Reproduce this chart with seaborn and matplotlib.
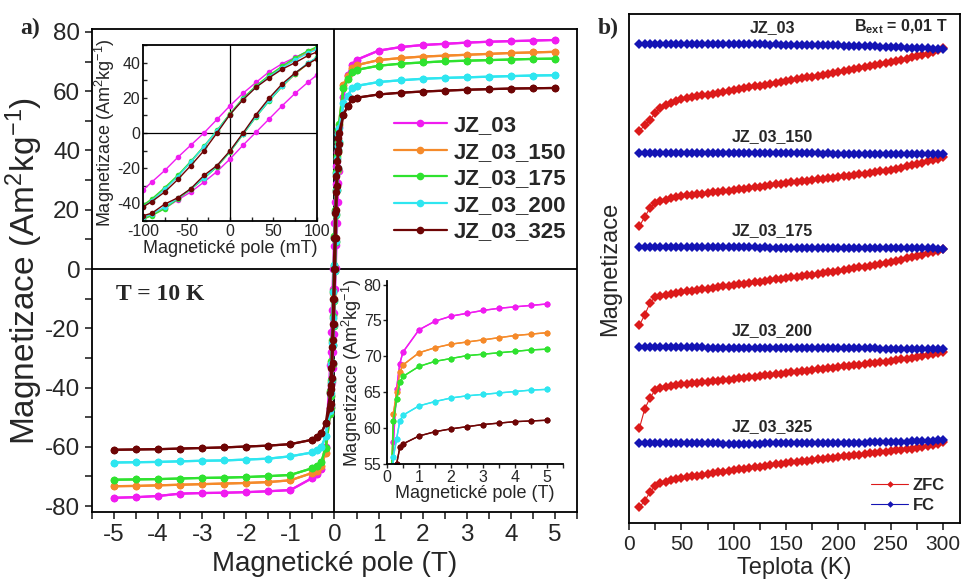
import numpy as np
import pandas as pd
import matplotlib
matplotlib.use("Agg")
import matplotlib.pyplot as plt
from matplotlib.ticker import MultipleLocator
import seaborn as sns

# ---------- panel a: hysteresis at 10 K ----------
SAMPLES = ["JZ_03", "JZ_03_150", "JZ_03_175", "JZ_03_200", "JZ_03_325"]
COLORS = ["#f01cf0", "#f58a2a", "#2fe22f", "#2ee6f0", "#6e0505"]

H_POS = [5, 4.5, 4, 3.5, 3, 2.5, 2, 1.5, 1, 0.5, 0.4, 0.3, 0.2]
H_NEG = [-5, -4.5, -4, -3.5, -3, -2.5, -2, -1.5, -1, -0.5, -0.4, -0.3, -0.2]
H_LOW_DESC_MT = [100, 90, 75, 60, 45, 30, 15, 0, -15, -30, -45, -60, -75, -90, -100]
H_LOW_ASC_MT = [-100, -90, -75, -60, -45, -30, -15, 0, 15, 30, 45, 60, 75, 90, 100]

M_POS = {
    "JZ_03":     [77.3, 77.1, 76.9, 76.7, 76.4, 76.0, 75.6, 74.9, 73.7, 70.6, 69.0, 65.5, 58.0],
    "JZ_03_150": [73.3, 73.1, 72.9, 72.6, 72.3, 72.0, 71.7, 71.2, 70.5, 68.8, 67.8, 65.0, 62.0],
    "JZ_03_175": [71.0, 70.9, 70.7, 70.5, 70.3, 70.1, 69.7, 69.3, 68.6, 67.2, 66.4, 64.0, 61.0],
    "JZ_03_200": [65.4, 65.3, 65.1, 64.9, 64.7, 64.5, 64.2, 63.7, 63.1, 61.8, 61.0, 58.5, 56.0],
    "JZ_03_325": [61.1, 61.0, 60.9, 60.7, 60.5, 60.2, 59.9, 59.5, 58.9, 57.8, 57.3, 55.0, 52.0],
}
M_NEG = {
    "JZ_03":     [-77.2, -77.0, -76.6, -75.8, -75.6, -75.5, -75.3, -75.0, -74.6, -70.5, -69.3, -67.5, -60.0],
    "JZ_03_150": [-73.3, -73.2, -73.0, -72.8, -72.6, -72.4, -72.2, -71.9, -71.3, -68.8, -68.0, -66.5, -62.0],
    "JZ_03_175": [-71.1, -71.0, -70.9, -70.7, -70.5, -70.4, -70.2, -69.9, -69.5, -67.2, -66.4, -65.0, -60.5],
    "JZ_03_200": [-65.3, -65.2, -65.1, -64.9, -64.7, -64.6, -64.3, -64.0, -63.2, -61.9, -61.2, -60.0, -56.5],
    "JZ_03_325": [-61.0, -60.9, -60.8, -60.6, -60.4, -60.2, -59.9, -59.6, -59.1, -57.6, -56.8, -55.5, -52.0],
}
# low field part (inset), descending branch 100 -> -100 mT
M_LOW_DESC = {
    "JZ_03":     [48.0, 46.5, 43.0, 39.4, 34.8, 28.8, 22.6, 15.5, 7.7, 0.0, -6.9, -13.8, -21.3, -27.9, -32.5],
    "JZ_03_150": [48.5, 46.0, 42.0, 37.5, 32.5, 26.5, 19.5, 10.8, 1.0, -8.0, -16.5, -24.5, -31.5, -38.0, -41.5],
    "JZ_03_175": [49.0, 46.8, 42.8, 38.0, 32.8, 26.8, 19.8, 11.0, 1.5, -7.5, -16.0, -24.0, -31.0, -37.5, -41.0],
    "JZ_03_200": [47.5, 45.5, 41.5, 37.0, 32.0, 26.2, 19.2, 10.5, 1.2, -7.8, -16.5, -24.8, -32.0, -38.5, -42.0],
    "JZ_03_325": [46.0, 44.1, 40.0, 36.3, 31.4, 26.0, 18.9, 10.5, 0.0, -10.1, -18.5, -26.4, -33.5, -39.0, -42.0],
}
# ascending branch -100 -> 100 mT
M_LOW_ASC = {
    "JZ_03":     [-49.0, -46.5, -42.8, -38.0, -33.5, -27.9, -21.9, -14.8, -6.9, 0.5, 8.0, 15.5, 22.6, 29.0, 33.0],
    "JZ_03_150": [-48.5, -46.5, -42.5, -37.0, -32.0, -25.5, -19.0, -10.5, -0.5, 9.5, 18.5, 26.5, 33.5, 39.5, 42.5],
    "JZ_03_175": [-49.0, -47.0, -43.0, -37.5, -32.0, -25.8, -19.2, -10.8, -0.8, 9.2, 18.2, 26.5, 33.8, 39.8, 43.0],
    "JZ_03_200": [-48.0, -46.0, -42.0, -37.0, -31.8, -25.5, -18.8, -10.5, -0.5, 9.5, 18.5, 26.8, 34.0, 40.0, 42.8],
    "JZ_03_325": [-47.0, -45.6, -40.4, -36.8, -31.6, -24.1, -18.5, -10.1, 0.0, 10.5, 19.8, 27.9, 34.2, 39.4, 42.2],
}

# ---------- panel b: ZFC / FC (arb. units, FC ~ 100) ----------
T_K = [10, 15, 20, 25, 30, 35, 40, 45, 50, 55, 60, 65, 70, 75, 80, 85, 90, 95, 100,
       105, 110, 115, 120, 125, 130, 135, 140, 145, 150, 155, 160, 165, 170, 175, 180,
       185, 190, 195, 200, 205, 210, 215, 220, 225, 230, 235, 240, 245, 250, 255, 260,
       265, 270, 275, 280, 285, 290, 295, 300]

ZFC = {
    "JZ_03": [13, 19, 24, 31, 36, 39, 41, 43, 45,
              45.9, 46.8, 47.7, 48.6, 49.5, 50.4, 51.3, 52.2, 53.1, 54,
              54.9, 55.8, 56.7, 57.6, 58.5, 59.4, 60.3, 61.2, 62.1, 63,
              63.9, 64.8, 65.7, 66.6, 67.5, 68.4, 69.3, 70.2, 71.1, 72,
              73, 74, 75, 76, 77, 78, 79, 80, 81, 82,
              83.2, 84.3, 85.5, 86.7, 87.8, 89, 90.5, 92, 94, 96],
    "JZ_03_150": [27, 36, 45, 50, 52.3, 53.5, 55, 56, 57,
                  57.6, 58.2, 58.8, 59.4, 60, 60.6, 61.2, 61.8, 62.4, 63,
                  63.7, 64.4, 65.1, 65.8, 66.5, 67.2, 67.9, 68.6, 69.3, 70,
                  70.6, 71.2, 71.8, 72.4, 73, 73.6, 74.2, 74.8, 75.4, 76,
                  76.7, 77.4, 78.1, 78.8, 79.5, 80.2, 80.9, 81.6, 82.3, 83,
                  84.2, 85.4, 86.6, 87.8, 89, 90.3, 91.7, 93, 94.5, 96],
    "JZ_03_175": [22, 32, 44, 50, 51, 52, 53, 54, 55,
                  55.7, 56.4, 57.1, 57.8, 58.5, 59.2, 59.9, 60.6, 61.3, 62,
                  62.7, 63.4, 64.1, 64.8, 65.5, 66.2, 66.9, 67.6, 68.3, 69,
                  69.7, 70.4, 71.1, 71.8, 72.5, 73.2, 73.9, 74.6, 75.3, 76,
                  76.9, 77.8, 78.7, 79.6, 80.5, 81.4, 82.3, 83.2, 84.1, 85,
                  86.2, 87.4, 88.6, 89.8, 91, 92.3, 93.6, 95, 96.5, 98],
    "JZ_03_200": [19, 38, 49, 57, 59, 60, 61, 62, 62.8,
                  63.3, 63.8, 64.3, 64.8, 65.3, 65.8, 66.3, 66.8, 67.4, 68,
                  68.6, 69.2, 69.8, 70.4, 71, 71.6, 72.2, 72.8, 73.4, 74,
                  74.6, 75.2, 75.8, 76.4, 77, 77.6, 78.2, 78.8, 79.4, 80,
                  80.6, 81.2, 81.8, 82.4, 83, 83.6, 84.2, 84.8, 85.4, 86,
                  86.8, 87.6, 88.4, 89.2, 90, 90.9, 91.8, 92.8, 93.9, 95],
    "JZ_03_325": [36, 42, 51, 57, 60, 61.5, 63, 64, 65,
                  65.8, 66.6, 67.4, 68.2, 69, 69.8, 70.6, 71.4, 72.2, 73,
                  73.7, 74.4, 75.1, 75.8, 76.5, 77.2, 77.9, 78.6, 79.3, 80,
                  80.6, 81.2, 81.8, 82.4, 83, 83.6, 84.2, 84.8, 85.4, 86,
                  86.6, 87.2, 87.8, 88.4, 89, 89.6, 90.2, 90.8, 91.4, 92,
                  92.6, 93.2, 93.8, 94.4, 95, 96, 97, 98.2, 99.5, 101],
}
FC = {
    "JZ_03": [100.0, 100.2, 100.1, 100.0, 99.9, 99.9, 100.0, 99.8, 99.8,
              99.9, 99.9, 99.8, 99.8, 99.7, 99.8, 99.8, 99.7, 99.7, 99.8,
              99.7, 99.7, 99.6, 99.7, 99.6, 99.6, 99.5, 99.6, 99.5, 99.5,
              99.4, 99.4, 99.3, 99.3, 99.2, 99.1, 99.0, 98.9, 98.8, 98.7,
              98.5, 98.4, 98.2, 98.1, 97.9, 97.8, 97.6, 97.4, 97.2, 97.0,
              96.8, 96.6, 96.4, 96.2, 96.0, 95.8, 95.6, 95.4, 95.3, 95.2],
    "JZ_03_150": [100.0, 100.1, 100.2, 100.0, 99.9, 100.0, 100.1, 100.0, 99.9,
                  99.9, 100.0, 99.9, 99.8, 99.9, 99.9, 99.8, 99.8, 99.9, 99.8,
                  99.8, 99.7, 99.8, 99.8, 99.7, 99.7, 99.8, 99.7, 99.7, 99.6,
                  99.7, 99.6, 99.6, 99.7, 99.6, 99.6, 99.5, 99.6, 99.5, 99.5,
                  99.5, 99.4, 99.5, 99.4, 99.4, 99.3, 99.4, 99.3, 99.3, 99.2,
                  99.2, 99.1, 99.1, 99.0, 99.0, 98.9, 98.9, 98.8, 98.8, 98.7],
    "JZ_03_175": [100.0, 100.1, 100.0, 100.0, 99.9, 100.0, 99.9, 99.9, 99.8,
                  99.9, 99.8, 99.8, 99.8, 99.7, 99.8, 99.7, 99.7, 99.7, 99.6,
                  99.7, 99.6, 99.6, 99.6, 99.5, 99.6, 99.5, 99.5, 99.5, 99.4,
                  99.5, 99.4, 99.4, 99.4, 99.3, 99.4, 99.3, 99.3, 99.3, 99.2,
                  99.2, 99.2, 99.1, 99.1, 99.1, 99.0, 99.0, 99.0, 98.9, 98.9,
                  98.9, 98.8, 98.8, 98.8, 98.7, 98.7, 98.6, 98.6, 98.5, 98.5],
    "JZ_03_200": [100.0, 100.2, 100.1, 100.0, 100.0, 99.9, 99.9, 99.8, 99.8,
                  99.7, 99.7, 99.6, 99.6, 99.5, 99.5, 99.4, 99.4, 99.3, 99.3,
                  99.3, 99.2, 99.2, 99.2, 99.1, 99.1, 99.1, 99.0, 99.0, 99.0,
                  99.0, 98.9, 98.9, 98.9, 98.9, 98.8, 98.8, 98.8, 98.8, 98.7,
                  98.7, 98.7, 98.7, 98.6, 98.6, 98.6, 98.6, 98.5, 98.5, 98.5,
                  98.5, 98.5, 98.4, 98.4, 98.4, 98.4, 98.3, 98.3, 98.3, 98.3],
    "JZ_03_325": [100.0, 100.1, 100.0, 100.0, 99.9, 99.9, 99.9, 99.8, 99.8,
                  99.8, 99.7, 99.7, 99.7, 99.6, 99.6, 99.6, 99.5, 99.5, 99.5,
                  99.5, 99.5, 99.5, 99.5, 99.5, 99.6, 99.6, 99.6, 99.6, 99.7,
                  99.7, 99.7, 99.8, 99.8, 99.8, 99.9, 99.9, 100.0, 100.0, 100.1,
                  100.2, 100.2, 100.3, 100.4, 100.5, 100.6, 100.7, 100.8, 100.9, 101.0,
                  101.1, 101.3, 101.5, 101.7, 101.9, 102.1, 102.3, 102.5, 102.7, 102.9],
}
STACK_OFFSET = [437, 328, 234, 134, 38]   # vertical shift of each sample in panel b

# ---------- style ----------
sns.set_style("ticks")
plt.rcParams["font.family"] = ["Liberation Sans", "DejaVu Sans"]
plt.rcParams.update({
    "axes.unicode_minus": False,
    "mathtext.fontset": "custom",
    "mathtext.rm": "Liberation Sans",
    "mathtext.it": "Liberation Sans",
    "mathtext.bf": "Liberation Sans:bold",
    "axes.linewidth": 1.3,
    "axes.edgecolor": "black",
})


def build_loops():
    rows = []
    low_desc = [h / 1000 for h in H_LOW_DESC_MT]
    low_asc = [h / 1000 for h in H_LOW_ASC_MT]
    for s in SAMPLES:
        desc_h = H_POS + low_desc + H_NEG[::-1]
        desc_m = M_POS[s] + M_LOW_DESC[s] + M_NEG[s][::-1]
        asc_h = H_NEG + low_asc + H_POS[::-1]
        asc_m = M_NEG[s] + M_LOW_ASC[s] + M_POS[s][::-1]
        for h, m in zip(desc_h, desc_m):
            rows.append({"sample": s, "branch": "desc", "H": h, "M": m})
        for h, m in zip(asc_h, asc_m):
            rows.append({"sample": s, "branch": "asc", "H": h, "M": m})
    df = pd.DataFrame(rows)
    df["H_mT"] = df["H"] * 1000
    return df


def build_zfc_fc():
    rows = []
    for s, off in zip(SAMPLES, STACK_OFFSET):
        for t, z in zip(T_K, ZFC[s]):
            rows.append({"sample": s, "curve": "ZFC", "T": t, "M": z + off})
        for t, f in zip(T_K, FC[s]):
            rows.append({"sample": s, "curve": "FC", "T": t, "M": f + off})
    return pd.DataFrame(rows)


loops = build_loops()
zf = build_zfc_fc()
palette = dict(zip(SAMPLES, COLORS))

fig = plt.figure(figsize=(9.62, 5.81), dpi=100)
W, H = 962, 581
ax_a = fig.add_axes([92 / W, 69 / H, 485 / W, 483 / H])
ax_i1 = fig.add_axes([143 / W, 360 / H, 174 / W, 176 / H])
ax_i2 = fig.add_axes([387 / W, 117 / H, 176 / W, 183 / H])
ax_b = fig.add_axes([629 / W, 58 / H, 331 / W, 509 / H])

# ----- main hysteresis -----
ax_a.axhline(0, color="black", lw=1.3, zorder=1)
ax_a.axvline(0, color="black", lw=1.3, zorder=1)
sns.lineplot(data=loops, x="H", y="M", hue="sample", hue_order=SAMPLES, units="branch",
             estimator=None, sort=False, palette=palette, marker="o", markersize=5.5,
             markeredgewidth=0, linewidth=1.6, ax=ax_a)
ax_a.set_xlim(-5.5, 5.5)
ax_a.set_ylim(-82, 81)
ax_a.xaxis.set_major_locator(MultipleLocator(1))
ax_a.xaxis.set_minor_locator(MultipleLocator(0.5))
ax_a.yaxis.set_major_locator(MultipleLocator(20))
ax_a.yaxis.set_minor_locator(MultipleLocator(10))
ax_a.tick_params(which="both", direction="out", length=5, width=1.2, labelsize=17.5,
                 top=False, right=False)
ax_a.set_xlabel("Magnetické pole (T)", fontsize=20, labelpad=4)
ax_a.set_ylabel("Magnetizace (Am$^{2}$kg$^{-1}$)", fontsize=24, labelpad=0)
for sp in ax_a.spines.values():
    sp.set_visible(True)
handles, labels = ax_a.get_legend_handles_labels()
ax_a.legend(handles, labels, loc="center", bbox_to_anchor=(0.80, 0.69), frameon=False,
            prop={"weight": "bold", "size": 16}, handlelength=2.4, labelspacing=0.25,
            handletextpad=0.3)
ax_a.text(0.05, 0.45, "T = 10 K", transform=ax_a.transAxes, fontsize=17,
          fontweight="bold", family="Liberation Serif", va="center")

# ----- inset 1: low field -----
ax_i1.axhline(0, color="black", lw=0.9, zorder=1)
ax_i1.axvline(0, color="black", lw=0.9, zorder=1)
sns.lineplot(data=loops, x="H_mT", y="M", hue="sample", hue_order=SAMPLES, units="branch",
             estimator=None, sort=False, palette=palette, marker="o", markersize=4,
             markeredgewidth=0, linewidth=1.0, ax=ax_i1, legend=False)
ax_i1.set_xlim(-100, 100)
ax_i1.set_ylim(-50, 50)
ax_i1.xaxis.set_major_locator(MultipleLocator(50))
ax_i1.xaxis.set_minor_locator(MultipleLocator(25))
ax_i1.yaxis.set_major_locator(MultipleLocator(20))
ax_i1.yaxis.set_minor_locator(MultipleLocator(10))
ax_i1.tick_params(which="both", direction="in", length=3, width=1.0, labelsize=11.5,
                  pad=2, top=False, right=False)
ax_i1.set_xlabel("Magnetické pole (mT)", fontsize=13, labelpad=1)
ax_i1.set_ylabel("Magnetizace (Am$^{2}$kg$^{-1}$)", fontsize=13, labelpad=0)

# ----- inset 2: high field -----
sns.lineplot(data=loops, x="H", y="M", hue="sample", hue_order=SAMPLES, units="branch",
             estimator=None, sort=False, palette=palette, marker="o", markersize=4.3,
             markeredgewidth=0, linewidth=1.0, ax=ax_i2, legend=False)
ax_i2.set_xlim(0, 5.5)
ax_i2.set_ylim(55, 80.5)
ax_i2.xaxis.set_major_locator(MultipleLocator(1))
ax_i2.xaxis.set_minor_locator(MultipleLocator(0.5))
ax_i2.yaxis.set_major_locator(MultipleLocator(5))
ax_i2.tick_params(which="both", direction="out", length=3, width=1.0, labelsize=11.5,
                  pad=1)
ax_i2.set_xlabel("Magnetické pole (T)", fontsize=13, labelpad=0)
ax_i2.set_ylabel("Magnetizace (Am$^{2}$kg$^{-1}$)", fontsize=13, labelpad=0)
ax_i2.spines["top"].set_visible(False)
ax_i2.spines["right"].set_visible(False)
ax_i2.patch.set_alpha(0)

# ----- panel b: ZFC / FC -----
sns.lineplot(data=zf, x="T", y="M", hue="curve", hue_order=["ZFC", "FC"], units="sample",
             estimator=None, sort=False, palette={"ZFC": "#dc1a1a", "FC": "#1414b4"},
             marker="D", markersize=4.8, markeredgewidth=0, linewidth=0.8, ax=ax_b)
ax_b.set_xlim(0, 316)
ax_b.set_ylim(58, 567)
ax_b.xaxis.set_major_locator(MultipleLocator(50))
ax_b.xaxis.set_minor_locator(MultipleLocator(25))
ax_b.set_yticks([])
ax_b.tick_params(which="both", direction="out", length=5, width=1.2, labelsize=15,
                 top=False, right=False)
ax_b.set_xlabel("Teplota (K)", fontsize=17, labelpad=2)
ax_b.set_ylabel("Magnetizace", fontsize=17, labelpad=6)
for sp in ax_b.spines.values():
    sp.set_visible(True)
for s, off in zip(SAMPLES, STACK_OFFSET):
    ax_b.text(137, off + 100 + 16, s, ha="center", va="center", fontsize=11.5,
              fontweight="bold")
ax_b.text(0.82, 0.975, "B$_{\\mathbf{ext}}$ = 0,01 T", transform=ax_b.transAxes,
          ha="center", va="center", fontsize=11.5, fontweight="bold")
hb, lb = ax_b.get_legend_handles_labels()
ax_b.legend(hb, lb, loc="lower right", frameon=False, prop={"weight": "bold", "size": 12},
            handlelength=2.2, handletextpad=0.3, labelspacing=0.3, markerscale=0.7,
            bbox_to_anchor=(1.0, -0.01))

fig.text(20 / W, 1 - 28 / H, "a)", family="Liberation Serif", fontweight="bold",
         fontsize=17, va="center")
fig.text(598 / W, 1 - 28 / H, "b)", family="Liberation Serif", fontweight="bold",
         fontsize=17, va="center")

fig.savefig("out.png", dpi=100)
